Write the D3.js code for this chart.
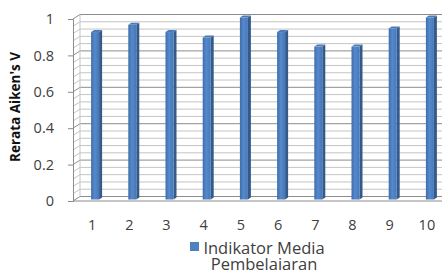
<!DOCTYPE html>
<html>
<head>
<meta charset="utf-8">
<script src="https://cdn.jsdelivr.net/npm/d3@7"></script>
<style>
  body { margin: 0; background: #fff; }
  svg { display: block; }
</style>
</head>
<body>
<div id="box"></div>
<script>
  var width = 442;
  var height = 270;

  // data
  var categories = ["1", "2", "3", "4", "5", "6", "7", "8", "9", "10"];
  var values = [0.92, 0.96, 0.92, 0.89, 1.00, 0.92, 0.84, 0.84, 0.94, 1.00];
  var yTicks = [0, 0.2, 0.4, 0.6, 0.8, 1];
  var seriesName = ["Indikator Media", "Pembelajaran"];
  var yTitle = "Rerata Aiken's V";

  var axisX = 73;       // front left edge of the plot
  var depthX = 7, depthY = -4.5;   // 3d wall depth offset

  var svg = d3.select("#box").append("svg")
    .attr("width", width)
    .attr("height", height);

  var x = d3.scaleBand().domain(categories).range([73.5, 445.5]).padding(0);
  var y = d3.scaleLinear().domain([0, 1]).range([201, 19]);

  // gradient for front faces
  var defs = svg.append("defs");
  var grad = defs.append("linearGradient").attr("id", "front")
    .attr("x1", "0%").attr("x2", "100%").attr("y1", "0%").attr("y2", "0%");
  grad.append("stop").attr("offset", "0%").attr("stop-color", "#3d6dac");
  grad.append("stop").attr("offset", "45%").attr("stop-color", "#5689cb");
  grad.append("stop").attr("offset", "100%").attr("stop-color", "#4577b8");

  // gridlines: minor every 0.04, major every 0.2
  var minor = d3.range(0, 1.0001, 0.04);
  var grid = svg.append("g");
  minor.forEach(function(v) {
    var isMajor = Math.abs(v * 5 - Math.round(v * 5)) < 1e-6;
    var yy = y(v);
    grid.append("path")
      .attr("d", "M" + axisX + "," + yy + " L" + (axisX + depthX) + "," + (yy + depthY) + " L" + width + "," + (yy + depthY))
      .attr("fill", "none")
      .attr("stroke", isMajor ? "#8c8c8c" : "#c4c4c4")
      .attr("stroke-width", 1);
  });
  // floor front edge and back vertical
  grid.append("line")
    .attr("x1", axisX).attr("x2", width)
    .attr("y1", y(0)).attr("y2", y(0))
    .attr("stroke", "#8c8c8c");
  grid.append("line")
    .attr("x1", axisX + depthX).attr("x2", axisX + depthX)
    .attr("y1", y(0) + depthY).attr("y2", y(1) + depthY)
    .attr("stroke", "#c4c4c4");

  // y axis
  var yAxis = svg.append("g")
    .attr("transform", "translate(" + axisX + ",0)")
    .call(d3.axisLeft(y).tickValues(yTicks).tickSize(5).tickPadding(14).tickFormat(d3.format("~g")));
  yAxis.select(".domain").attr("stroke", "#8c8c8c");
  yAxis.selectAll(".tick line").attr("stroke", "#8c8c8c");
  yAxis.selectAll("text")
    .attr("font-family", "Open Sans, sans-serif")
    .attr("font-size", 14.5)
    .attr("fill", "#404040");

  // x axis labels
  var xAxis = svg.append("g")
    .attr("transform", "translate(0," + y(0) + ")")
    .call(d3.axisBottom(x).tickSize(0).tickPadding(19));
  xAxis.select(".domain").remove();
  xAxis.selectAll("text")
    .attr("font-family", "Open Sans, sans-serif")
    .attr("font-size", 14.5)
    .attr("fill", "#404040");

  // bars (3d columns)
  var bw = 8, bdx = 3, bdy = -2, base = y(0) - 1.5;
  var bars = svg.append("g").selectAll("g")
    .data(values)
    .enter().append("g");

  bars.each(function(d, i) {
    var g = d3.select(this);
    var x0 = x(categories[i]) + x.bandwidth() / 2 - 1;
    var x1 = x0 + bw;
    var top = y(d) - 1.5;
    // side face
    g.append("path")
      .attr("d", "M" + x1 + "," + base + " L" + (x1 + bdx) + "," + (base + bdy) +
        " L" + (x1 + bdx) + "," + (top + bdy) + " L" + x1 + "," + top + "Z")
      .attr("fill", "#345a8a");
    // top face
    g.append("path")
      .attr("d", "M" + x0 + "," + top + " L" + (x0 + bdx) + "," + (top + bdy) +
        " L" + (x1 + bdx) + "," + (top + bdy) + " L" + x1 + "," + top + "Z")
      .attr("fill", "#4a7cbc");
    // front face
    g.append("rect")
      .attr("x", x0).attr("y", top)
      .attr("width", bw).attr("height", base - top)
      .attr("fill", "url(#front)");
  });

  // y title
  svg.append("text")
    .attr("transform", "translate(20," + 107 + ") rotate(-90)")
    .attr("text-anchor", "middle")
    .attr("font-family", "Open Sans, sans-serif")
    .attr("font-weight", "bold")
    .attr("font-size", 13.5)
    .attr("fill", "#111")
    .text(yTitle);

  // legend
  var legendCx = 264;
  var leg = svg.append("g");
  leg.selectAll("text")
    .data(seriesName)
    .enter().append("text")
    .attr("x", legendCx)
    .attr("y", function(d, i) { return 254 + i * 15.5; })
    .attr("text-anchor", "middle")
    .attr("font-family", "Open Sans, sans-serif")
    .attr("font-size", 16.5)
    .attr("fill", "#404040")
    .text(function(d) { return d; });
  leg.append("rect")
    .attr("x", 190).attr("y", 242)
    .attr("width", 9).attr("height", 9)
    .attr("fill", "#4f81bd");
</script>
</body>
</html>
